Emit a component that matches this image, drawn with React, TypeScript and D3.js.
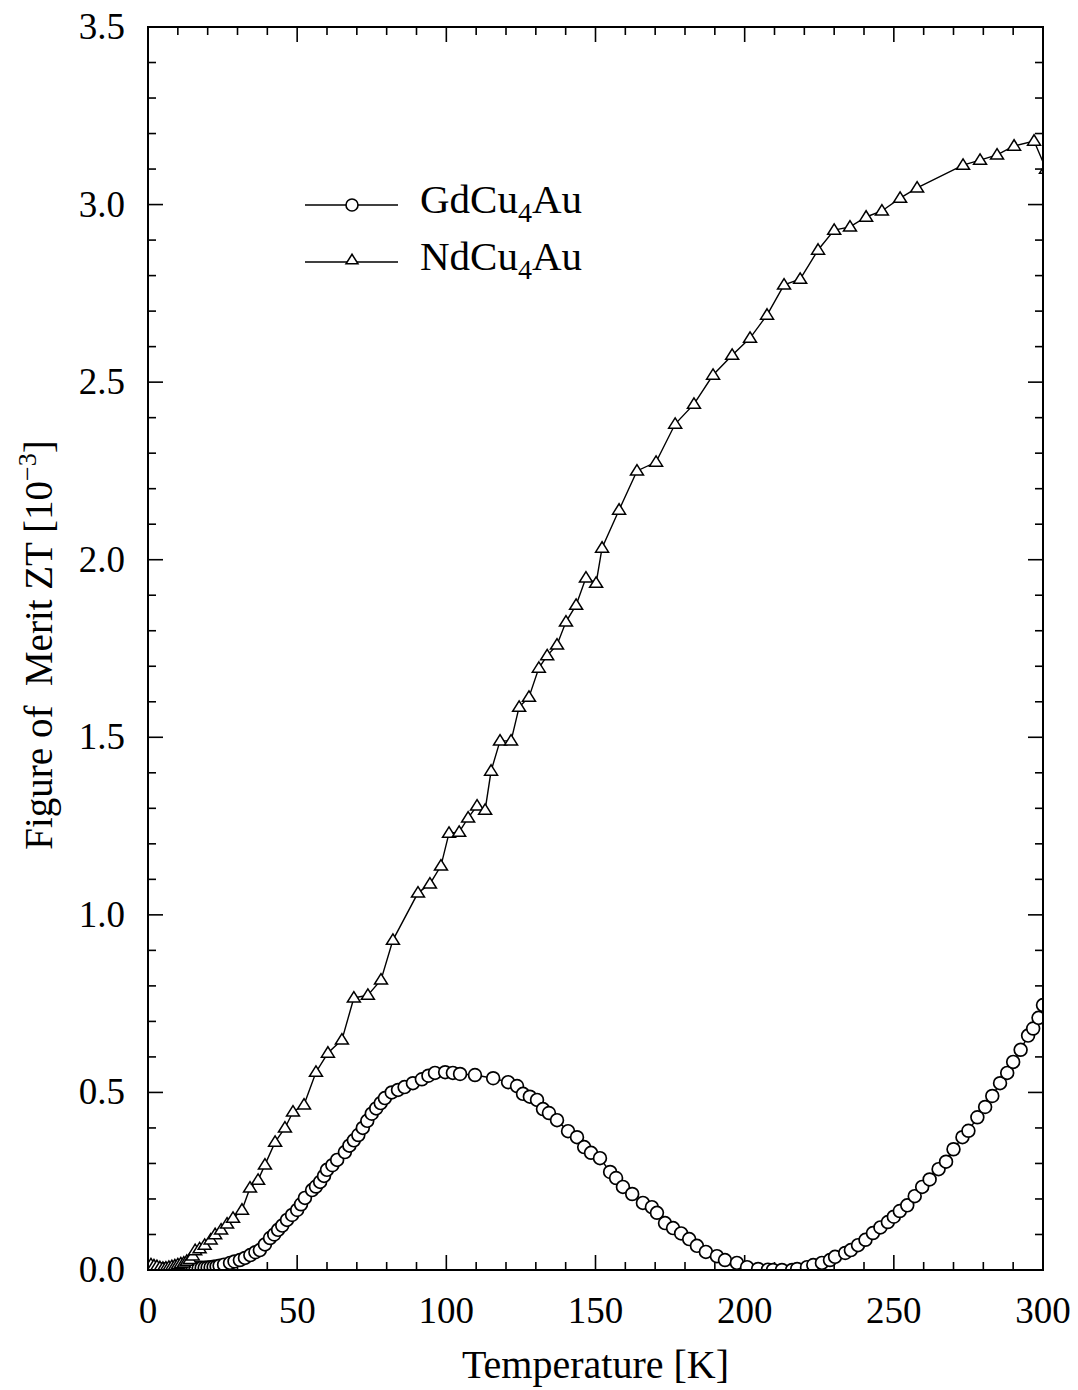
import React from "react";
import * as d3 from "d3";

const gdT = [1, 2, 3, 4, 5, 6, 7, 8, 9, 10, 11, 12, 13, 14, 15, 16, 17, 18, 19, 20, 21, 22, 23, 24, 25.5, 27.5, 29, 30.8, 32.5, 34.3, 36, 37.5, 39.2, 40.9, 42.3, 43.6, 45, 46.6, 48.3, 50, 51.3, 52.6, 55, 56.3, 57.7, 59, 60, 61.8, 63.4, 66, 67.5, 69, 70.5, 72, 73.5, 75, 76.5, 78, 79.4, 81.7, 83.8, 86, 88.8, 91.8, 94, 96.2, 99.6, 102.2, 104.6, 109.6, 115.7, 120.7, 123.7, 125.7, 128, 130.4, 132.4, 134.4, 137.1, 140.8, 143.8, 146.2, 148.5, 151.5, 154.9, 156.9, 159.2, 162.3, 165.9, 168.9, 170.6, 173.3, 176, 178.7, 181.4, 184, 187, 190.7, 193.4, 197.4, 200.8, 204.5, 207.8, 209.5, 212.5, 215.9, 217.6, 220.9, 223, 225.9, 228.6, 230.3, 233.7, 235.6, 238, 240.5, 243, 245.5, 248, 250, 252, 254.5, 257, 259.5, 262, 265, 267.5, 270, 273, 275, 278, 280.6, 283, 285.6, 288, 290, 292.5, 295, 296.7, 298.5, 300];
const gdZT = [0.005, 0.003, 0.002, 0.002, 0.001, 0.002, 0.001, 0.002, 0.002, 0.003, 0.002, 0.003, 0.004, 0.003, 0.004, 0.005, 0.005, 0.006, 0.006, 0.007, 0.008, 0.009, 0.01, 0.012, 0.015, 0.02, 0.024, 0.028, 0.034, 0.042, 0.05, 0.056, 0.072, 0.09, 0.1, 0.113, 0.125, 0.141, 0.155, 0.169, 0.185, 0.203, 0.225, 0.235, 0.248, 0.265, 0.282, 0.295, 0.31, 0.332, 0.35, 0.365, 0.38, 0.4, 0.42, 0.44, 0.455, 0.47, 0.484, 0.5, 0.507, 0.515, 0.526, 0.537, 0.547, 0.555, 0.557, 0.555, 0.552, 0.549, 0.54, 0.529, 0.518, 0.496, 0.488, 0.479, 0.453, 0.442, 0.422, 0.391, 0.374, 0.346, 0.33, 0.315, 0.276, 0.259, 0.234, 0.214, 0.189, 0.177, 0.161, 0.132, 0.118, 0.103, 0.087, 0.068, 0.051, 0.039, 0.028, 0.02, 0.008, 0.003, 0.001, 0.0, 0.0, 0.0, 0.003, 0.008, 0.014, 0.02, 0.028, 0.037, 0.048, 0.056, 0.07, 0.085, 0.104, 0.12, 0.135, 0.15, 0.166, 0.182, 0.208, 0.234, 0.255, 0.284, 0.305, 0.34, 0.374, 0.392, 0.43, 0.459, 0.49, 0.526, 0.555, 0.586, 0.62, 0.66, 0.68, 0.71, 0.746];

const ndT = [1, 2, 3, 4, 5, 6, 7, 8, 9, 10, 11, 12, 13, 14, 15, 15.8, 17.3, 19, 21, 22.5, 24.5, 26.5, 28.5, 31.5, 34.2, 36.9, 39.2, 42.6, 45.9, 48.6, 52.3, 56.3, 60.3, 65, 69, 73.7, 78.1, 82.1, 90.5, 94.5, 98.2, 100.9, 104.3, 107.3, 110.3, 113, 115, 118, 121.7, 124.4, 127.7, 131, 133.8, 137.1, 140.1, 143.5, 146.8, 150.2, 152.2, 157.9, 163.9, 170.3, 176.7, 183, 189.4, 195.8, 201.8, 207.5, 213.2, 218.6, 224.6, 230, 235.3, 240.7, 246, 252.1, 257.8, 273.2, 278.9, 284.6, 290.3, 297, 301];
const ndZT = [0.015, 0.012, 0.01, 0.007, 0.005, 0.006, 0.008, 0.01, 0.012, 0.015, 0.018, 0.02, 0.025, 0.03, 0.04, 0.055, 0.06, 0.07, 0.085, 0.1, 0.113, 0.13, 0.146, 0.169, 0.231, 0.253, 0.296, 0.36, 0.4, 0.445, 0.465, 0.557, 0.611, 0.648, 0.766, 0.774, 0.817, 0.929, 1.062, 1.087, 1.138, 1.23, 1.233, 1.273, 1.307, 1.295, 1.405, 1.49, 1.49, 1.585, 1.613, 1.695, 1.73, 1.76, 1.825, 1.872, 1.949, 1.934, 2.033, 2.14, 2.25, 2.275, 2.382, 2.438, 2.52, 2.576, 2.624, 2.689, 2.774, 2.79, 2.872, 2.928, 2.937, 2.965, 2.982, 3.018, 3.047, 3.111, 3.125, 3.14, 3.165, 3.179, 3.1];

const xMajor = [0, 50, 100, 150, 200, 250, 300];
const yMajor = [0, 0.5, 1.0, 1.5, 2.0, 2.5, 3.0, 3.5];

const W = 1078;
const H = 1390;
const L = 148, R = 1043, T = 27, B = 1270;
const FONT = "'Liberation Serif', 'Times New Roman', serif";

export default function App() {
  const x = d3.scaleLinear().domain([0, 300]).range([L, R]);
  const y = d3.scaleLinear().domain([0, 3.5]).range([B, T]);

  const gd = gdT.map((t, i) => [t, gdZT[i]] as [number, number]);
  const nd = ndT.map((t, i) => [t, ndZT[i]] as [number, number]);
  const line = d3.line<[number, number]>().x((d) => x(d[0])).y((d) => y(d[1]));

  const xMinor = d3.range(0, 301, 10);
  const yMinor = d3.range(0, 36).map((v) => v / 10);

  const tri = (cx: number, cy: number, s: number) => {
    const h = s * 0.8;
    return `M${cx},${cy - h * 0.6}L${cx + s / 2},${cy + h * 0.4}L${cx - s / 2},${cy + h * 0.4}Z`;
  };

  return (
    <svg width={W} height={H} style={{ position: "absolute", left: 0, top: 0, background: "#fff" }} fontFamily={FONT}>
      <defs>
        <clipPath id="plotclip">
          <rect x={L} y={T} width={R - L} height={B - T} />
        </clipPath>
      </defs>
      <rect x={0} y={0} width={W} height={H} fill="#fff" />
      <g stroke="#000" strokeWidth={1.6}>
        {xMinor.map((v) => {
          const len = v % 50 === 0 ? 15 : 8;
          return (
            <g key={"xt" + v}>
              <line x1={x(v)} x2={x(v)} y1={B} y2={B - len} />
              <line x1={x(v)} x2={x(v)} y1={T} y2={T + len} />
            </g>
          );
        })}
        {yMinor.map((v) => {
          const len = Math.round(v * 10) % 5 === 0 ? 15 : 8;
          return (
            <g key={"yt" + v}>
              <line x1={L} x2={L + len} y1={y(v)} y2={y(v)} />
              <line x1={R} x2={R - len} y1={y(v)} y2={y(v)} />
            </g>
          );
        })}
      </g>
      <g clipPath="url(#plotclip)">
        <path d={line(gd) || ""} fill="none" stroke="#000" strokeWidth={1.4} />
        <path d={line(nd) || ""} fill="none" stroke="#000" strokeWidth={1.4} />
        {gd.map((d, i) => (
          <circle key={"g" + i} cx={x(d[0])} cy={y(d[1])} r={6.4} fill="#fff" stroke="#000" strokeWidth={1.7} />
        ))}
        {nd.map((d, i) => (
          <path key={"n" + i} d={tri(x(d[0]), y(d[1]), 13)} fill="#fff" stroke="#000" strokeWidth={1.5} strokeLinejoin="miter" />
        ))}
      </g>
      <rect x={L} y={T} width={R - L} height={B - T} fill="none" stroke="#000" strokeWidth={2} />
      <g fontSize={37} fill="#000">
        {xMajor.map((v) => (
          <text key={"xl" + v} x={x(v)} y={1323} textAnchor="middle">{v}</text>
        ))}
        {yMajor.map((v) => (
          <text key={"yl" + v} x={125} y={y(v) + 12} textAnchor="end">{v.toFixed(1)}</text>
        ))}
      </g>
      <text x={(L + R) / 2} y={1378} textAnchor="middle" fontSize={40} fill="#000">Temperature [K]</text>
      <text transform={`translate(52, 645) rotate(-90)`} textAnchor="middle" fontSize={39} fill="#000" xmlSpace="preserve">
        Figure of  Merit ZT [10<tspan fontSize={26} dy={-16}>−3</tspan><tspan dy={16}>]</tspan>
      </text>
      <g>
        <line x1={305} x2={398} y1={205} y2={205} stroke="#000" strokeWidth={1.4} />
        <circle cx={352} cy={205} r={6} fill="#fff" stroke="#000" strokeWidth={1.6} />
        <text x={420} y={213} fontSize={41} fill="#000">GdCu<tspan fontSize={28} dy={9}>4</tspan><tspan dy={-9}>Au</tspan></text>
        <line x1={305} x2={398} y1={262} y2={262} stroke="#000" strokeWidth={1.4} />
        <path d={tri(352, 260, 12)} fill="#fff" stroke="#000" strokeWidth={1.5} />
        <text x={420} y={270} fontSize={41} fill="#000">NdCu<tspan fontSize={28} dy={9}>4</tspan><tspan dy={-9}>Au</tspan></text>
      </g>
    </svg>
  );
}
